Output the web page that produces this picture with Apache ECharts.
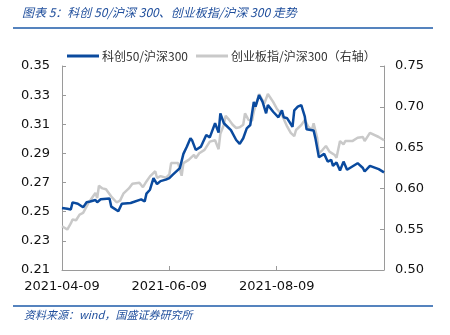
<!DOCTYPE html>
<html><head><meta charset="utf-8">
<script src="https://cdn.jsdelivr.net/npm/echarts@6/dist/echarts.min.js"></script>
<style>html,body{margin:0;padding:0;background:#fff}#c{width:450px;height:335px}</style>
</head><body><div id="c"></div>
<script>
const titleText = '图表 5：科创 50/沪深 300、创业板指/沪深 300 走势';
const sourceText = '资料来源：wind，国盛证券研究所';
const seriesNames = ['科创50/沪深300', '创业板指/沪深300（右轴）'];
const xStart = '2021-04-09';
const xTickLabels = ['2021-04-09', '2021-06-09', '2021-08-09'];
const xEnd = '2021-10-09';
const leftTicks = [0.21, 0.23, 0.25, 0.27, 0.29, 0.31, 0.33, 0.35];
const rightTicks = [0.50, 0.55, 0.60, 0.65, 0.70, 0.75];

const kcDates = ['2021-04-09','2021-04-12','2021-04-14','2021-04-15','2021-04-18','2021-04-21','2021-04-23','2021-04-25','2021-04-28','2021-04-29','2021-05-01','2021-05-06','2021-05-07','2021-05-11','2021-05-13','2021-05-18','2021-05-19','2021-05-24','2021-05-26','2021-05-27','2021-05-29','2021-05-31','2021-06-02','2021-06-04','2021-06-07','2021-06-09','2021-06-11','2021-06-15','2021-06-17','2021-06-19','2021-06-21','2021-06-22','2021-06-24','2021-06-27','2021-06-30','2021-07-02','2021-07-03','2021-07-05','2021-07-07','2021-07-08','2021-07-10','2021-07-11','2021-07-14','2021-07-17','2021-07-19','2021-07-21','2021-07-23','2021-07-25','2021-07-27','2021-07-28','2021-07-30','2021-08-01','2021-08-03','2021-08-04','2021-08-07','2021-08-10','2021-08-12','2021-08-13','2021-08-15','2021-08-18','2021-08-19','2021-08-21','2021-08-23','2021-08-25','2021-08-26','2021-08-30','2021-08-31','2021-09-02','2021-09-05','2021-09-07','2021-09-09','2021-09-10','2021-09-12','2021-09-14','2021-09-16','2021-09-18','2021-09-24','2021-09-27','2021-09-28','2021-10-01','2021-10-06','2021-10-09'];
const kcValues = [0.2526,0.2520,0.2515,0.2564,0.2555,0.2530,0.2565,0.2570,0.2580,0.2565,0.2585,0.2590,0.2535,0.2503,0.2555,0.2560,0.2570,0.2585,0.2570,0.2624,0.2651,0.2731,0.2690,0.2710,0.2720,0.2731,0.2754,0.2799,0.2897,0.2947,0.3004,0.2988,0.2924,0.2947,0.3027,0.3010,0.3043,0.3107,0.3043,0.3175,0.3107,0.3120,0.3060,0.2992,0.2965,0.3004,0.3072,0.3095,0.3254,0.3221,0.3300,0.3254,0.3175,0.3232,0.3186,0.3148,0.3196,0.3148,0.3141,0.3083,0.3196,0.3221,0.3232,0.3152,0.3066,0.3057,0.3005,0.2874,0.2897,0.2844,0.2856,0.2815,0.2838,0.2783,0.2844,0.2788,0.2833,0.2800,0.2776,0.2815,0.2792,0.2770];

const cyDates = ['2021-04-09','2021-04-12','2021-04-14','2021-04-15','2021-04-17','2021-04-19','2021-04-21','2021-04-23','2021-04-24','2021-04-28','2021-04-29','2021-04-30','2021-05-02','2021-05-04','2021-05-07','2021-05-10','2021-05-12','2021-05-14','2021-05-17','2021-05-19','2021-05-23','2021-05-25','2021-05-27','2021-05-29','2021-06-01','2021-06-02','2021-06-04','2021-06-07','2021-06-09','2021-06-10','2021-06-14','2021-06-16','2021-06-17','2021-06-20','2021-06-23','2021-06-24','2021-06-26','2021-06-29','2021-07-02','2021-07-05','2021-07-07','2021-07-08','2021-07-10','2021-07-11','2021-07-13','2021-07-15','2021-07-17','2021-07-19','2021-07-21','2021-07-22','2021-07-24','2021-07-26','2021-07-27','2021-07-30','2021-08-01','2021-08-02','2021-08-04','2021-08-07','2021-08-09','2021-08-12','2021-08-15','2021-08-17','2021-08-19','2021-08-20','2021-08-23','2021-08-25','2021-08-27','2021-08-29','2021-08-30','2021-09-01','2021-09-02','2021-09-04','2021-09-06','2021-09-08','2021-09-11','2021-09-12','2021-09-14','2021-09-16','2021-09-17','2021-09-21','2021-09-24','2021-09-27','2021-09-28','2021-10-01','2021-10-06','2021-10-09'];
const cyValues = [0.5537,0.5496,0.5570,0.5618,0.5610,0.5679,0.5700,0.5780,0.5820,0.5944,0.5880,0.6033,0.6000,0.5990,0.5900,0.5830,0.5850,0.5940,0.6000,0.6057,0.6070,0.6015,0.6085,0.6147,0.6210,0.6130,0.6150,0.6130,0.6170,0.6310,0.6310,0.6155,0.6310,0.6350,0.6410,0.6370,0.6430,0.6472,0.6573,0.6590,0.6480,0.6670,0.6780,0.6890,0.6840,0.6780,0.6740,0.6750,0.6780,0.6920,0.6840,0.6830,0.6940,0.7155,0.7080,0.7040,0.7157,0.7060,0.6980,0.6900,0.6756,0.6680,0.6640,0.6716,0.6777,0.6840,0.6756,0.6716,0.6797,0.6620,0.6430,0.6470,0.6520,0.6450,0.6410,0.6375,0.6580,0.6540,0.6580,0.6580,0.6620,0.6630,0.6580,0.6680,0.6630,0.6590];

const DAY = 86400000;
const t0 = Date.parse(xStart + 'T00:00:00Z');
const off = d => Math.round((Date.parse(d + 'T00:00:00Z') - t0) / DAY);
const offToDate = o => new Date(t0 + o * DAY).toISOString().slice(0, 10);
const tickOffsets = xTickLabels.map(off);
const xMax = off(xEnd);

const blue = '#0a4a9e', gray = '#c9c9c9', titleBlue = '#1f4e9c';
const fontFam = '"DejaVu Sans", "Noto Sans CJK SC", sans-serif';
const cjk = '"Noto Sans CJK SC", sans-serif';

const chart = echarts.init(document.getElementById('c'), null, {renderer: 'canvas'});
chart.setOption({
  animation: false,
  backgroundColor: '#fff',
  graphic: [
    {type: 'text', left: 22, top: 6, style: {text: titleText, fill: titleBlue, font: 'italic 12px ' + cjk}},
    {type: 'line', shape: {x1: 13, y1: 28, x2: 433, y2: 28}, style: {stroke: '#1d5aa8', lineWidth: 1.5}},
    {type: 'line', shape: {x1: 13, y1: 306, x2: 433, y2: 306}, style: {stroke: '#1d5aa8', lineWidth: 1.5}},
    {type: 'text', left: 24, top: 309, style: {text: sourceText, fill: titleBlue, font: 'italic 11px ' + cjk}}
  ],
  legend: {
    left: 62, top: 45, itemWidth: 32, itemHeight: 3, itemGap: 8, icon: 'rect',
    textStyle: {fontSize: 12, color: '#333', fontFamily: cjk, padding: [0, 0, 0, -2]},
    data: seriesNames
  },
  grid: {left: 62, right: 66, top: 66, bottom: 65},
  xAxis: {
    type: 'value', min: 0, max: xMax, interval: tickOffsets[1] - tickOffsets[0],
    axisLine: {lineStyle: {color: '#9a9a9a', width: 1}},
    axisTick: {inside: true, length: 4, lineStyle: {color: '#9a9a9a'}},
    splitLine: {show: false},
    axisLabel: {showMaxLabel: false, margin: 10, fontSize: 13, color: '#111', fontFamily: fontFam,
      formatter: v => offToDate(v)}
  },
  yAxis: [
    {type: 'value', min: leftTicks[0], max: leftTicks[leftTicks.length - 1], interval: 0.02,
      axisLine: {show: true, lineStyle: {color: '#9a9a9a'}},
      axisTick: {show: true, inside: true, length: 4, lineStyle: {color: '#9a9a9a'}},
      splitLine: {show: false},
      axisLabel: {margin: 12, fontSize: 13, color: '#111', fontFamily: fontFam, formatter: v => v.toFixed(2)}},
    {type: 'value', min: rightTicks[0], max: rightTicks[rightTicks.length - 1], interval: 0.05, position: 'right',
      axisLine: {show: true, lineStyle: {color: '#9a9a9a'}},
      axisTick: {show: true, inside: true, length: 4, lineStyle: {color: '#9a9a9a'}},
      splitLine: {show: false},
      axisLabel: {margin: 11, fontSize: 13, color: '#111', fontFamily: fontFam, formatter: v => v.toFixed(2)}}
  ],
  series: [
    {name: seriesNames[1], type: 'line', yAxisIndex: 1, showSymbol: false, symbol: 'none',
      lineStyle: {color: gray, width: 2.5}, itemStyle: {color: gray}, z: 2,
      data: cyDates.map((d, i) => [off(d), cyValues[i]])},
    {name: seriesNames[0], type: 'line', yAxisIndex: 0, showSymbol: false, symbol: 'none',
      lineStyle: {color: blue, width: 2.5}, itemStyle: {color: blue}, z: 3,
      data: kcDates.map((d, i) => [off(d), kcValues[i]])}
  ]
});
</script></body></html>
